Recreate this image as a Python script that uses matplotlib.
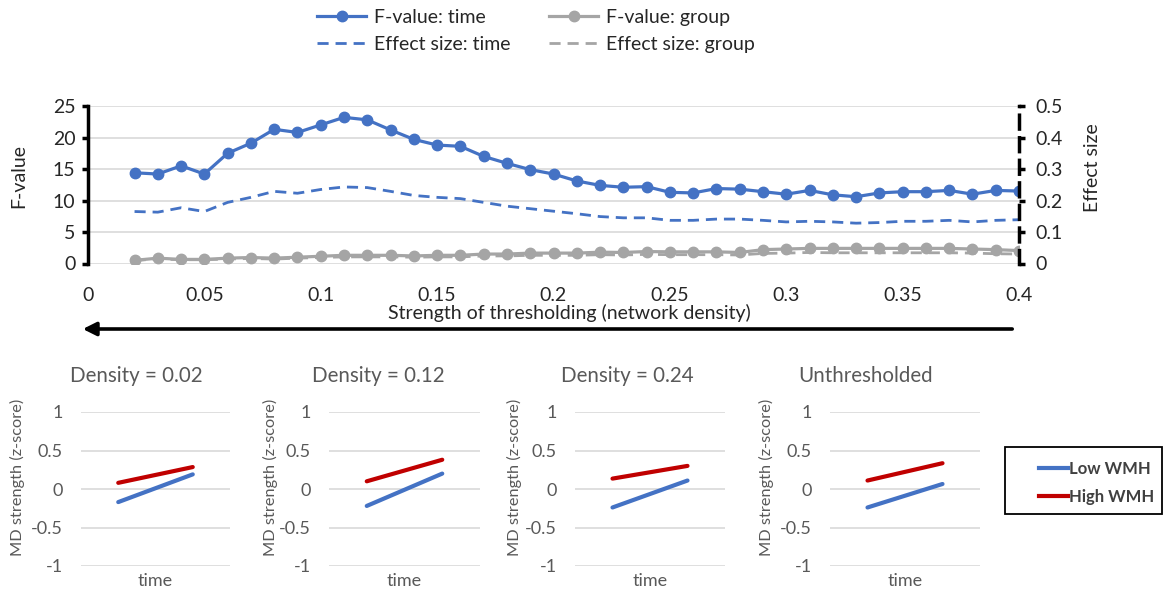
import numpy as np
import matplotlib
matplotlib.use("Agg")
import matplotlib.pyplot as plt
from matplotlib.lines import Line2D
from matplotlib.patches import Rectangle, FancyArrowPatch

plt.rcParams['font.family'] = ['Lato', 'DejaVu Sans']

# network density thresholds
density = [0.02, 0.03, 0.04, 0.05, 0.06, 0.07, 0.08, 0.09, 0.10, 0.11,
           0.12, 0.13, 0.14, 0.15, 0.16, 0.17, 0.18, 0.19, 0.20, 0.21,
           0.22, 0.23, 0.24, 0.25, 0.26, 0.27, 0.28, 0.29, 0.30, 0.31,
           0.32, 0.33, 0.34, 0.35, 0.36, 0.37, 0.38, 0.39, 0.40]

f_time = [14.4, 14.2, 15.5, 14.2, 17.5, 19.1, 21.3, 20.8, 22.0, 23.2,
          22.8, 21.2, 19.7, 18.8, 18.6, 17.0, 15.9, 14.9, 14.2, 13.1,
          12.4, 12.1, 12.2, 11.3, 11.2, 11.9, 11.8, 11.4, 11.0, 11.6,
          10.9, 10.6, 11.2, 11.4, 11.4, 11.6, 11.0, 11.6, 11.5]
f_group = [0.5, 0.85, 0.65, 0.65, 0.85, 0.95, 0.85, 1.0, 1.15, 1.3,
           1.3, 1.3, 1.2, 1.3, 1.3, 1.5, 1.5, 1.65, 1.65, 1.65,
           1.8, 1.75, 1.9, 1.85, 1.85, 1.85, 1.75, 2.2, 2.3, 2.4,
           2.4, 2.4, 2.4, 2.4, 2.4, 2.4, 2.3, 2.2, 2.05]
eff_time = [0.165, 0.163, 0.177, 0.165, 0.194, 0.210, 0.229, 0.223, 0.235, 0.243,
            0.241, 0.229, 0.216, 0.210, 0.206, 0.194, 0.182, 0.174, 0.166, 0.158,
            0.149, 0.145, 0.145, 0.137, 0.137, 0.141, 0.141, 0.137, 0.132, 0.134,
            0.132, 0.128, 0.130, 0.134, 0.134, 0.137, 0.132, 0.137, 0.139]
eff_group = [0.010, 0.014, 0.012, 0.012, 0.014, 0.016, 0.014, 0.017, 0.019, 0.021,
             0.021, 0.021, 0.020, 0.021, 0.021, 0.024, 0.024, 0.026, 0.026, 0.026,
             0.028, 0.027, 0.029, 0.028, 0.028, 0.028, 0.027, 0.032, 0.033, 0.035,
             0.034, 0.034, 0.034, 0.034, 0.034, 0.034, 0.033, 0.031, 0.030]

# MD strength at the two time points, per threshold
panel_titles = ['Density = 0.02', 'Density = 0.12', 'Density = 0.24', 'Unthresholded']
low_wmh = [(-0.17, 0.19), (-0.22, 0.20), (-0.24, 0.11), (-0.24, 0.065)]
high_wmh = [(0.08, 0.285), (0.10, 0.38), (0.135, 0.30), (0.11, 0.335)]

BLUE = '#4472C4'
GREY = '#A5A5A5'
RED = '#C00000'
GRID = '#D9D9D9'
DARK = '#262626'
MID = '#595959'

W, H = 1164, 590
fig = plt.figure(figsize=(W / 100, H / 100), dpi=100)


def box(x0, y0, x1, y1):
    # pixel box (top-left origin) -> figure fraction rect
    return [x0 / W, 1 - y1 / H, (x1 - x0) / W, (y1 - y0) / H]


def fx(px):
    return px / W


def fy(py):
    return 1 - py / H


# ---- top: F-value and effect size across thresholds ----
ax = fig.add_axes(box(88, 106, 1019, 263.5))
l1, = ax.plot(density, f_time, color=BLUE, lw=2.3, marker='o', ms=7.5, zorder=3)
l3, = ax.plot(density, f_group, color=GREY, lw=2.3, marker='o', ms=7.5, zorder=3)
ax.set_xlim(0, 0.4)
ax.set_ylim(0, 25)
ax.set_xticks(np.arange(0, 0.41, 0.05))
ax.set_xticklabels(['0', '0.05', '0.1', '0.15', '0.2', '0.25', '0.3', '0.35', '0.4'])
ax.set_yticks([0, 5, 10, 15, 20, 25])
ax.yaxis.grid(True, color=GRID, lw=1.2)
ax.set_axisbelow(True)
ax.tick_params(axis='x', length=0, pad=17, labelsize=14, labelcolor=DARK)
ax.tick_params(axis='y', length=4, width=2.5, direction='out', pad=5,
               labelsize=14, labelcolor=DARK)
for s in ['top', 'right', 'bottom']:
    ax.spines[s].set_visible(False)
ax.spines['left'].set_linewidth(2.5)

ax2 = ax.twinx()
l2, = ax2.plot(density, eff_time, color=BLUE, lw=2, ls=(0, (4, 2.5)), zorder=2)
l4, = ax2.plot(density, eff_group, color=GREY, lw=2, ls=(0, (4, 2.5)), zorder=2)
ax2.set_ylim(0, 0.5)
ax2.set_yticks([0, 0.1, 0.2, 0.3, 0.4, 0.5])
ax2.set_yticklabels(['0', '0.1', '0.2', '0.3', '0.4', '0.5'])
for s in ['top', 'left', 'bottom']:
    ax2.spines[s].set_visible(False)
ax2.spines['right'].set_linewidth(2.5)
ax2.spines['right'].set_linestyle((0, (4, 2.5)))
ax2.tick_params(axis='y', length=4, width=2.5, direction='out', pad=8,
                labelsize=14, labelcolor=DARK)

fig.text(fx(19), fy(176), 'F-value', rotation=90, ha='center', va='center',
         fontsize=14, color=DARK)
fig.text(fx(1093), fy(168), 'Effect size', rotation=90, ha='center', va='center',
         fontsize=14, color=DARK)
fig.text(fx(569), fy(313), 'Strength of thresholding (network density)',
         ha='center', va='center', fontsize=14, color=DARK)
fig.add_artist(FancyArrowPatch(
    (fx(1015), fy(329)), (fx(80), fy(329)), transform=fig.transFigure,
    arrowstyle='-|>,head_length=8,head_width=4', lw=2.6, color='black',
    mutation_scale=1))

fig.legend([l1, l2, l3, l4],
           ['F-value: time', 'Effect size: time', 'F-value: group', 'Effect size: group'],
           ncol=2, loc='center', bbox_to_anchor=(fx(536), fy(31)), frameon=False,
           fontsize=14, handlelength=2.5, handletextpad=0.4, columnspacing=2.0,
           labelspacing=0.5, labelcolor=DARK)

# ---- bottom: interaction plots ----
panel_x = [(81, 230), (329, 480), (575, 725), (830, 980)]
title_x = [136, 378, 627, 866]
ylabel_x = [17, 270, 514, 766]
for i in range(4):
    x0, x1 = panel_x[i]
    pa = fig.add_axes(box(x0, 412, x1, 566))
    pa.plot([0, 1], low_wmh[i], color=BLUE, lw=3, solid_capstyle='round')
    pa.plot([0, 1], high_wmh[i], color=RED, lw=3, solid_capstyle='round')
    pa.set_xlim(-0.5, 1.5)
    pa.set_ylim(-1, 1)
    pa.set_yticks([-1, -0.5, 0, 0.5, 1])
    pa.set_yticklabels(['-1', '-0.5', '0', '0.5', '1'])
    pa.set_xticks([0.5])
    pa.set_xticklabels(['time'])
    pa.yaxis.grid(True, color=GRID, lw=1.2)
    pa.set_axisbelow(True)
    for s in pa.spines.values():
        s.set_visible(False)
    pa.tick_params(length=0, labelsize=13, labelcolor=MID, pad=13)
    pa.tick_params(axis='x', pad=5)
    fig.text(fx(ylabel_x[i]), fy(477), 'MD strength (z-score)', rotation=90,
             ha='center', va='center', fontsize=11.8, color=MID)
    fig.text(fx(title_x[i]), fy(376), panel_titles[i], ha='center', va='center',
             fontsize=14.8, color=MID)

# group legend in its own frame
fig.add_artist(Rectangle((fx(1005), fy(514)), fx(1162) - fx(1005), fy(447) - fy(514),
                         transform=fig.transFigure, fill=False, edgecolor='black', lw=1.3))
handles = [Line2D([], [], color=BLUE, lw=3), Line2D([], [], color=RED, lw=3)]
leg = fig.legend(handles, ['Low WMH', 'High WMH'], loc='center left',
                 bbox_to_anchor=(fx(1024), fy(483)), frameon=False,
                 handlelength=1.75, handletextpad=0.05, labelspacing=0.7,
                 prop={'weight': 'bold', 'size': 12})
for t in leg.get_texts():
    t.set_color('#404040')

fig.savefig('out.png', dpi=100)
